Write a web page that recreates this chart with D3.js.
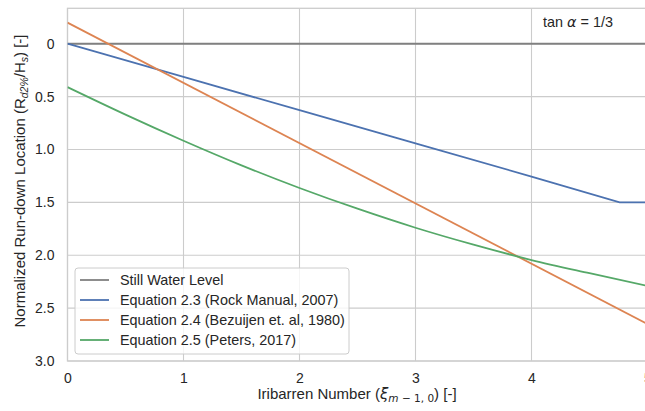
<!DOCTYPE html>
<html lang="en">

<head>
    <script src='https://d3js.org/d3.v7.min.js'></script>
</head>

<body style="margin:0;background:#fff;">

    <style>
        svg text {
            fill: #262626;
            font-family: "Liberation Sans", Arial, sans-serif;
        }
    </style>
    <script>

        // values
        var stillX = [0, 5];
        var stillY = [0, 0];

        var rockX = [0, 1, 2, 3, 4, 4.76, 5];
        var rockY = [0, 0.314, 0.628, 0.942, 1.256, 1.5, 1.5];

        var bezX = [0, 5];
        var bezY = [-0.2, 2.65];

        var petersX = [0, 0.5, 1, 1.5, 2, 2.5, 3, 3.5, 4, 4.5, 5];
        var petersY = [0.41, 0.67, 0.917, 1.15, 1.364, 1.56, 1.74, 1.9, 2.045, 2.17, 2.29];

        var xTicks = [0, 1, 2, 3, 4, 5];
        var yTicks = [0, 0.5, 1.0, 1.5, 2.0, 2.5, 3.0];
        var yTickLabels = ["0", "0.5", "1.0", "1.5", "2.0", "2.5", "3.0"];

        var legendNames = ["Still Water Level", "Equation 2.3 (Rock Manual, 2007)",
            "Equation 2.4 (Bezuijen et. al, 1980)", "Equation 2.5 (Peters, 2017)"];
        var colors = ["#808080", "#4c72b0", "#dd8452", "#55a868"];

        var width = 645;
        var height = 411;
        var fs = "14px";

        var svg = d3.select("body")
            .append("svg")
            .attr("width", width)
            .attr("height", height);

        var x = d3.scaleLinear().domain([0, 5]).range([67.5, 647.5]);
        var y = d3.scaleLinear().domain([-0.335, 3.0]).range([8.3, 361]);

        // grid
        svg.append("g").selectAll("line")
            .data(xTicks)
            .enter()
            .append("line")
            .attr("x1", function(d) { return x(d); })
            .attr("x2", function(d) { return x(d); })
            .attr("y1", y(-0.335))
            .attr("y2", y(3.0))
            .attr("stroke", "#cccccc")
            .attr("stroke-width", 1.1);

        svg.append("g").selectAll("line")
            .data(yTicks)
            .enter()
            .append("line")
            .attr("x1", x(0))
            .attr("x2", x(5))
            .attr("y1", function(d) { return y(d); })
            .attr("y2", function(d) { return y(d); })
            .attr("stroke", "#cccccc")
            .attr("stroke-width", 1.1);

        // frame
        svg.append("rect")
            .attr("x", x(0))
            .attr("y", y(-0.335))
            .attr("width", x(5) - x(0))
            .attr("height", y(3.0) - y(-0.335))
            .attr("fill", "none")
            .attr("stroke", "#cccccc")
            .attr("stroke-width", 1.3);

        // tick labels
        var xAxis = d3.axisBottom(x).tickValues(xTicks).tickSize(0).tickPadding(12)
            .tickFormat(d3.format("d"));
        var gx = svg.append("g")
            .attr("transform", "translate(0," + y(3.0) + ")")
            .call(xAxis);
        gx.select(".domain").remove();
        gx.selectAll("text").style("font-size", fs).attr("fill", "#262626");

        var yAxis = d3.axisLeft(y).tickValues(yTicks).tickSize(0).tickPadding(13)
            .tickFormat(function(d, i) { return yTickLabels[i]; });
        var gy = svg.append("g")
            .attr("transform", "translate(" + x(0) + ",0)")
            .call(yAxis);
        gy.select(".domain").remove();
        gy.selectAll("text").style("font-size", fs).attr("fill", "#262626");

        // lines
        var series = [
            { xs: stillX, ys: stillY, curve: d3.curveLinear },
            { xs: rockX, ys: rockY, curve: d3.curveLinear },
            { xs: bezX, ys: bezY, curve: d3.curveLinear },
            { xs: petersX, ys: petersY, curve: d3.curveMonotoneX }
        ];

        svg.append("clipPath").attr("id", "plotclip")
            .append("rect")
            .attr("x", x(0))
            .attr("y", y(-0.335))
            .attr("width", x(5) - x(0))
            .attr("height", y(3.0) - y(-0.335));

        svg.append("g")
            .attr("clip-path", "url(#plotclip)")
            .selectAll("path")
            .data(series)
            .enter()
            .append("path")
            .attr("d", function(s) {
                var line = d3.line()
                    .x(function(d) { return x(d[0]); })
                    .y(function(d) { return y(d[1]); })
                    .curve(s.curve);
                return line(d3.zip(s.xs, s.ys));
            })
            .attr("fill", "none")
            .attr("stroke", function(d, i) { return colors[i]; })
            .attr("stroke-width", 1.8);

        // annotation
        var ann = svg.append("text")
            .attr("x", 543)
            .attr("y", 27)
            .style("font-size", "14.4px");
        ann.append("tspan").text("tan ");
        ann.append("tspan").style("font-style", "italic").style("font-family", "DejaVu Sans").text("α");
        ann.append("tspan").text(" = 1/3");

        // legend
        var legend = svg.append("g");
        legend.append("rect")
            .attr("x", 75)
            .attr("y", 268)
            .attr("width", 274)
            .attr("height", 86)
            .attr("rx", 3)
            .attr("fill", "#ffffff")
            .attr("fill-opacity", 0.8)
            .attr("stroke", "#cccccc")
            .attr("stroke-width", 1);

        var item = legend.selectAll("g.item")
            .data(legendNames)
            .enter()
            .append("g")
            .attr("class", "item")
            .attr("transform", function(d, i) {
                return "translate(0," + (280 + i * 20) + ")";
            });
        item.append("line")
            .attr("x1", 80)
            .attr("x2", 109)
            .attr("stroke", function(d, i) { return colors[i]; })
            .attr("stroke-width", 1.8);
        item.append("text")
            .attr("x", 120)
            .attr("dy", "0.35em")
            .style("font-size", "14.4px")
            .text(function(d) { return d; });

        // axis labels
        var xl = svg.append("text")
            .attr("x", 357)
            .attr("y", 399)
            .attr("text-anchor", "middle")
            .style("font-size", "15px");
        xl.append("tspan").text("Iribarren Number (");
        xl.append("tspan").style("font-style", "italic").style("font-family", "DejaVu Sans").text("ξ");
        xl.append("tspan").attr("dy", 3).style("font-size", "10.5px").style("font-family", "DejaVu Sans")
            .html("<tspan font-style='italic'>m</tspan> − 1, 0");
        xl.append("tspan").attr("dy", -3).text(") [-]");

        var yl = svg.append("text")
            .attr("transform", "translate(25,181) rotate(-90)")
            .attr("text-anchor", "middle")
            .style("font-size", "15px");
        yl.append("tspan").text("Normalized Run-down Location (R");
        yl.append("tspan").attr("dy", 3).style("font-size", "10.5px").style("font-style", "italic")
            .text("d2%");
        yl.append("tspan").attr("dy", -3).text("/H");
        yl.append("tspan").attr("dy", 3).style("font-size", "10.5px").style("font-style", "italic").text("s");
        yl.append("tspan").attr("dy", -3).text(") [-]");

    </script>

</body>

</html>
